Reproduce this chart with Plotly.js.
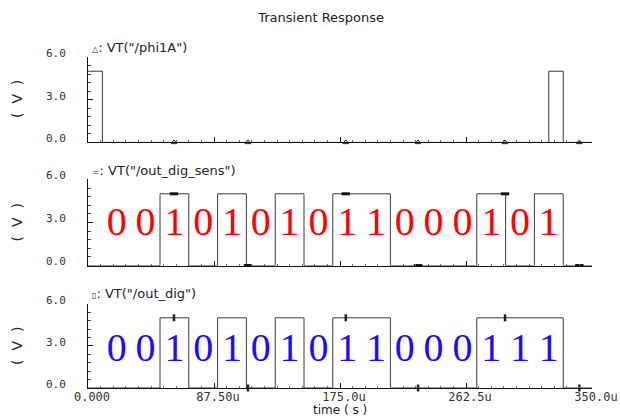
<!DOCTYPE html>
<html>
<head>
<meta charset="utf-8">
<script src="https://cdn.plot.ly/plotly-3.0.1.min.js"></script>
<style>html,body{margin:0;padding:0;background:#fff;}#chart{width:620px;height:419px;}</style>
</head>
<body>
<div id="chart"></div>
<script>
// ---- data (time in microseconds, voltage in V) ----
var phiTimes  = [0, 10, 320, 330, 350];
var phiVolts  = [5, 0, 5, 0, 0];

var sensTimes = [0, 50, 70, 90, 110, 130, 150, 170, 210, 270, 290, 310, 330, 350];
var sensVolts = [0, 5, 0, 5, 0, 5, 0, 5, 0, 5, 0, 5, 0, 0];

var digTimes  = [0, 50, 70, 90, 110, 130, 150, 170, 210, 270, 330, 350];
var digVolts  = [0, 5, 0, 5, 0, 5, 0, 5, 0, 5, 0, 0];

var markerTimes = [59.7, 111.1, 179.0, 229.2, 289.6, 341.2];
var phiMarkV    = [0, 0, 0, 0, 0, 0];
var sensMarkV   = [5, 0, 5, 0, 5, 0];
var digMarkV    = [5, 0, 5, 0, 5, 0];

var bitCenters = [20, 40, 60, 80, 100, 120, 140, 160, 180, 200, 220, 240, 260, 280, 300, 320];
var sensBits   = ['0','0','1','0','1','0','1','0','1','1','0','0','0','1','0','1'];
var digBits    = ['0','0','1','0','1','0','1','0','1','1','0','0','0','1','1','1'];

var xTickVals = [0, 87.5, 175, 262.5, 350];
var xTickText = ['0.000', '87.50u', '175.0u', '262.5u', '350.0u'];
var yTickVals = [0, 3, 6];
var yTickText = ['0.0', '3.0', '6.0'];

var lineCol = '#3a3a3a';
var xFont = {family: 'DejaVu Sans Mono', size: 12, color: '#333'};
var yFont = {family: 'DejaVu Sans Mono', size: 11, color: '#333'};

function stepTrace(x, y, xa, ya) {
  return {x: x, y: y, xaxis: xa, yaxis: ya, type: 'scatter', mode: 'lines',
          line: {shape: 'hv', color: lineCol, width: 1}, hoverinfo: 'skip', showlegend: false};
}
function markTrace(x, y, xa, ya, marker) {
  return {x: x, y: y, xaxis: xa, yaxis: ya, type: 'scatter', mode: 'markers',
          marker: marker, cliponaxis: false, hoverinfo: 'skip', showlegend: false};
}
function bitTrace(x, txt, xa, ya, yv, col) {
  return {x: x, y: x.map(function(){return yv;}), text: txt, xaxis: xa, yaxis: ya,
          type: 'scatter', mode: 'text', textposition: 'middle center',
          textfont: {family: 'Liberation Serif', size: 40, color: col},
          hoverinfo: 'skip', showlegend: false};
}

var data = [
  stepTrace(phiTimes, phiVolts, 'x3', 'y3'),
  markTrace(markerTimes, phiMarkV, 'x3', 'y3', {symbol: 'triangle-up-open', size: 5, color: '#222', line: {width: 1, color: '#222'}}),
  stepTrace(sensTimes, sensVolts, 'x2', 'y2'),
  markTrace(markerTimes, sensMarkV, 'x2', 'y2', {symbol: 'line-ew', size: 6, line: {width: 3, color: '#111'}}),
  bitTrace(bitCenters, sensBits, 'x2', 'y2', 2.85, '#ff0000'),
  stepTrace(digTimes, digVolts, 'x', 'y'),
  markTrace(markerTimes, digMarkV, 'x', 'y', {symbol: 'line-ns', size: 5, line: {width: 2.5, color: '#222'}}),
  bitTrace(bitCenters, digBits, 'x', 'y', 2.6, '#1a0dff')
];

function xAxis(anchor, labels) {
  return {anchor: anchor, domain: [0, 1], range: [0, 350], showgrid: false, zeroline: false,
          showline: true, linecolor: '#111', linewidth: 1,
          tickmode: 'array', tickvals: xTickVals, ticktext: xTickText, showticklabels: labels,
          ticks: 'inside', ticklen: 5, tickcolor: '#111', tickfont: xFont,
          ticklabelshift: 4, ticklabelstandoff: -2,
          minor: {tickmode: 'linear', tick0: 0, dtick: 8.75, ticks: 'inside', ticklen: 2, tickcolor: '#666'}};
}
function yAxis(anchor, dom) {
  return {anchor: anchor, domain: dom, range: [0, 6], showgrid: false, zeroline: false,
          showline: true, linecolor: '#111', linewidth: 1,
          tickmode: 'array', tickvals: yTickVals, ticktext: yTickText,
          ticks: 'inside', ticklen: 5, tickcolor: '#111', tickfont: yFont,
          ticklabelstandoff: 19, ticklabelshift: -4,
          minor: {tickmode: 'linear', tick0: 0, dtick: 0.6, ticks: 'inside', ticklen: 3, tickcolor: '#444'}};
}

var sans = {family: 'DejaVu Sans', size: 13, color: '#222'};
function ann(x, y, text, extra) {
  var a = {xref: 'paper', yref: 'paper', x: x, y: y, text: text, showarrow: false, font: sans};
  for (var k in extra) a[k] = extra[k];
  return a;
}

var layout = {
  width: 620, height: 419,
  margin: {l: 88, r: 28, t: 57, b: 31},
  paper_bgcolor: '#fff', plot_bgcolor: '#fff',
  title: {text: 'Transient Response', x: 0.518, xref: 'container', y: 0.958, yref: 'container',
          yanchor: 'middle', font: {family: 'DejaVu Sans', size: 13, color: '#222'}},
  xaxis: xAxis('y', true),
  xaxis2: xAxis('y2', false),
  xaxis3: xAxis('y3', false),
  yaxis: yAxis('x', [0, 0.2545]),
  yaxis2: yAxis('x2', [0.370, 0.630]),
  yaxis3: yAxis('x3', [0.742, 1]),
  annotations: [
    ann(0.004, 1.030, '<span style="font-size:8px">△</span>: VT("/phi1A")', {xanchor: 'left', yanchor: 'middle'}),
    ann(0.004, 0.658, '<span style="font-size:9px">=</span>: VT("/out_dig_sens")', {xanchor: 'left', yanchor: 'middle'}),
    ann(0.004, 0.285, '<span style="font-size:8px">▯</span>: VT("/out_dig")', {xanchor: 'left', yanchor: 'middle'}),
    ann(-0.141, 0.873, '(  V  )', {textangle: -90, xanchor: 'center', yanchor: 'middle', font: {family: 'DejaVu Sans', size: 14, color: '#222'}}),
    ann(-0.141, 0.500, '(  V  )', {textangle: -90, xanchor: 'center', yanchor: 'middle', font: {family: 'DejaVu Sans', size: 14, color: '#222'}}),
    ann(-0.141, 0.127, '(  V  )', {textangle: -90, xanchor: 'center', yanchor: 'middle', font: {family: 'DejaVu Sans', size: 14, color: '#222'}}),
    ann(0.5, -0.0906, 'time ( s )', {xanchor: 'center', yanchor: 'bottom', borderpad: 0, font: {family: 'DejaVu Sans', size: 12, color: '#222'}})
  ]
};

Plotly.newPlot('chart', data, layout, {staticPlot: true, displayModeBar: false});
</script>
</body>
</html>
